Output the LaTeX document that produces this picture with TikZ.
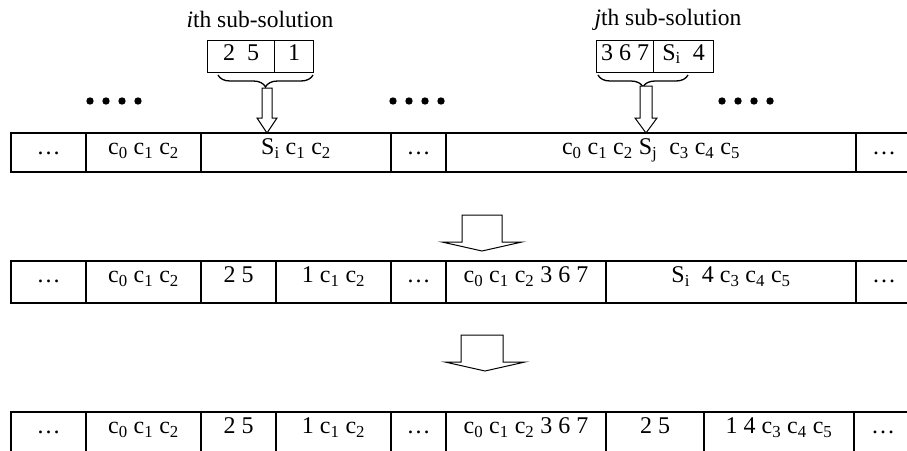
\documentclass[tikz,border=0pt]{standalone}
\usepackage{fontspec}
\setmainfont{Liberation Serif}
\usetikzlibrary{decorations.pathreplacing}
\newcommand{\csub}[1]{c\textsubscript{#1}}

\begin{document}
\begin{tikzpicture}[x=1pt,y=-1pt,font=\fontsize{24}{28}\selectfont,
cell/.style={draw,line width=2pt,inner sep=0pt,anchor=north west,text height=0.7em},
rowa/.style={cell,minimum height=39pt,text depth=0.27em},
rowb/.style={cell,minimum height=42pt,text depth=0.62em},
rowc/.style={cell,minimum height=44pt,text depth=0.78em},
subbox/.style={draw,line width=1.3pt,inner sep=0pt,anchor=north west,minimum height=32pt,text height=0.7em,text depth=0pt},
lbl/.style={anchor=base,font=\fontsize{23.5}{28}\selectfont},
brc/.style={decorate,decoration={brace,mirror,amplitude=12pt},line width=1.3pt},
hollow/.style={draw,line width=1pt,fill=white,line join=miter}]
\useasboundingbox (0,0) rectangle (907,450);
\clip (0,0) rectangle (907,450);

% sub-solutions
\node[lbl] (ilbl) at (260,27) {\textit{i}th sub-solution};
\node[subbox,minimum width=67pt] (ia) at (207,40) {2\ \ 5};
\node[subbox,minimum width=39pt] (ib) at (274,40) {1};
\node[lbl] (jlbl) at (668,25) {\textit{j}th sub-solution};
\node[subbox,minimum width=57pt] (ja) at (596,40) {3 6 7};
\node[subbox,minimum width=60pt] (jb) at (653,40) {S\textsubscript{i}\ \ 4};
\draw[brc] (218,75) -- (313,75);
\draw[brc] (598,75) -- (688,75);
\draw[hollow] (262,88) -- (272,88) -- (272,118) -- (277,118) -- (267,133) -- (257,118) -- (262,118) -- cycle;
\draw[hollow] (640,86) -- (652,86) -- (652,118) -- (657,118) -- (646,133) -- (635,118) -- (640,118) -- cycle;
\foreach \x in {90,106,122,138,393,409,425,441,722,738,754,770}
  \fill (\x,101) circle (3.7pt);

% first string
\node[rowa,minimum width=75pt] (r1a) at (10,132) {\dots};
\node[rowa,minimum width=115pt] (r1b) at (85,132) {\csub{0} \csub{1} \csub{2}};
\node[rowa,minimum width=190pt] (r1c) at (200,132) {S\textsubscript{i} \csub{1} \csub{2}};
\node[rowa,minimum width=55pt] (r1d) at (390,132) {\dots};
\node[rowa,minimum width=410pt] (r1e) at (445,132) {\csub{0} \csub{1} \csub{2} S\textsubscript{j}\ \ \csub{3} \csub{4} \csub{5}};
\node[rowa,minimum width=56pt] (r1f) at (855,132) {\dots};

\draw[hollow] (462,215) -- (502,215) -- (502,242) -- (522,242) -- (482,251) -- (442,242) -- (462,242) -- cycle;

% second string
\node[rowb,minimum width=75pt] (r2a) at (10,260) {\dots};
\node[rowb,minimum width=115pt] (r2b) at (85,260) {\csub{0} \csub{1} \csub{2}};
\node[rowb,minimum width=75pt] (r2c) at (200,260) {2 5};
\node[rowb,minimum width=115pt] (r2d) at (275,260) {1 \csub{1} \csub{2}};
\node[rowb,minimum width=55pt] (r2e) at (390,260) {\dots};
\node[rowb,minimum width=160pt] (r2f) at (445,260) {\csub{0} \csub{1} \csub{2} 3 6 7};
\node[rowb,minimum width=250pt] (r2g) at (605,260) {S\textsubscript{i}\ \ 4 \csub{3} \csub{4} \csub{5}};
\node[rowb,minimum width=56pt] (r2h) at (855,260) {\dots};

\draw[hollow] (461,335) -- (503,335) -- (503,362) -- (525,362) -- (485,371) -- (445,362) -- (461,362) -- cycle;

% third string
\node[rowc,minimum width=75pt] (r3a) at (10,411) {\dots};
\node[rowc,minimum width=115pt] (r3b) at (85,411) {\csub{0} \csub{1} \csub{2}};
\node[rowc,minimum width=75pt] (r3c) at (200,411) {2 5};
\node[rowc,minimum width=115pt] (r3d) at (275,411) {1 \csub{1} \csub{2}};
\node[rowc,minimum width=55pt] (r3e) at (390,411) {\dots};
\node[rowc,minimum width=160pt] (r3f) at (445,411) {\csub{0} \csub{1} \csub{2} 3 6 7};
\node[rowc,minimum width=98pt] (r3g) at (605,411) {2 5};
\node[rowc,minimum width=150pt] (r3h) at (703,411) {1 4 \csub{3} \csub{4} \csub{5}};
\node[rowc,minimum width=58pt] (r3i) at (853,411) {\dots};
\end{tikzpicture}
\end{document}
